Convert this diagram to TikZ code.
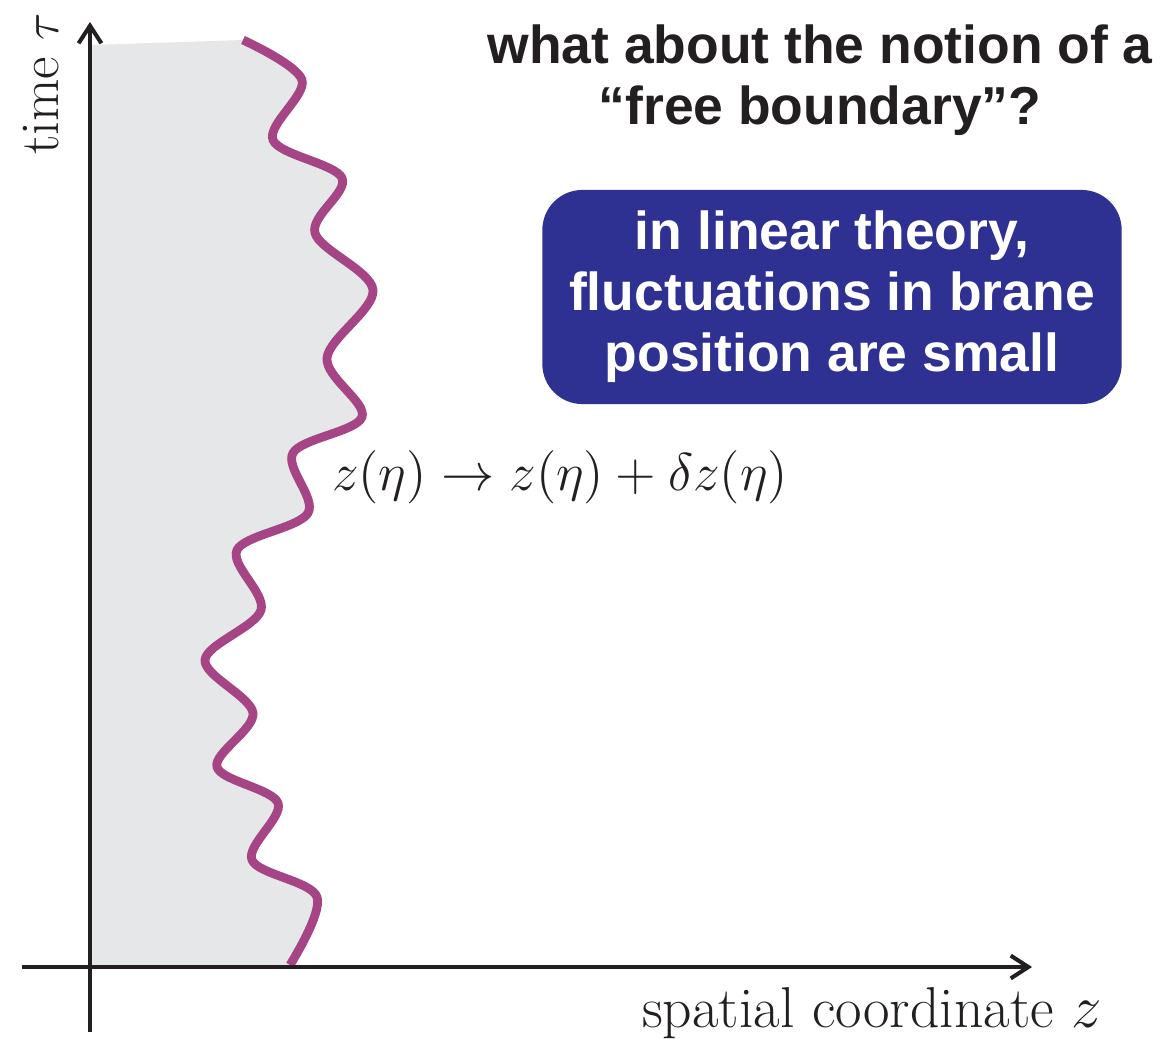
\documentclass[tikz,border=0pt]{standalone}
\usepackage{fontspec}
\newfontfamily\headfont{Liberation Sans}
\definecolor{branepurple}{RGB}{165,69,133}
\definecolor{boxblue}{RGB}{46,49,146}
\definecolor{bulkgray}{RGB}{230,231,232}
\definecolor{inkblack}{RGB}{35,31,32}
\usetikzlibrary{arrows.meta,positioning,calc}

% the wiggly brane, shared by the fill and the stroke
\newcommand{\branepath}{-- plot[smooth,tension=0.55] coordinates {(243,40) (302,80) (273,140) (342,178) (315,233) (373,290) (327,358) (362,417) (293,453) (308,513) (237,550) (261,610) (205,660) (253,713) (217,767) (278,803) (252,860) (317,897) (290,965)}}

\begin{document}
\begin{tikzpicture}[x=0.01cm,y=-0.01cm,
    axis/.style={draw=inkblack, line width=1.15pt, -{Straight Barb[length=5pt,width=6.5pt]}},
    brane/.style={draw=branepurple, line width=2.5pt},
    serif label/.style={text=inkblack, inner sep=0pt},
    head text/.style={font=\headfont\bfseries\fontsize{15.2}{17.3}\selectfont, align=center, inner sep=0pt}]
    \useasboundingbox (0,0) rectangle (1163,1039);

    % bulk region and brane
    \fill[bulkgray] (92,45) \branepath -- (92,965) -- cycle;
    \draw[brane] (243,40) \branepath;

    % axes
    \coordinate (origin) at (90,967);
    \coordinate (ytip) at (90,22);
    \coordinate (ybot) at (90,1032);
    \coordinate (xleft) at (22,967);
    \coordinate (xtip) at (1032,967);
    \draw[axis] (ybot) -- (ytip);
    \draw[axis] (xleft) -- (xtip);

    \node[serif label, font=\fontsize{15.6}{19}\selectfont, rotate=90, anchor=base] (timelabel) at (58,84) {time $\tau$};
    \node[serif label, font=\fontsize{16.4}{19}\selectfont, anchor=base] (spacelabel) at (872,1027) {spatial coordinate $z$};
    \node[serif label, font=\fontsize{14.4}{18}\selectfont, scale=1.05, anchor=base] (shift) at (560,490) {$z(\eta)\rightarrow z(\eta)+\delta z(\eta)$};

    \node[head text, text=inkblack] (question) at (820,80) {what about the notion of a\\“free boundary”?};
    \node[head text, text=white, fill=boxblue, rounded corners=0.4cm,
          minimum width=5.79cm, minimum height=2.14cm] (linear) at (832,297)
          {in linear theory,\\fluctuations in brane\\position are small};
\end{tikzpicture}
\end{document}
